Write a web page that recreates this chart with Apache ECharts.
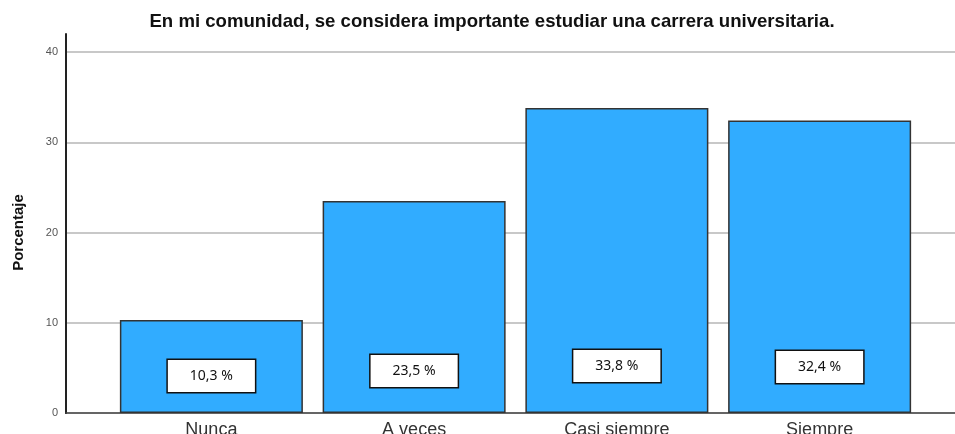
<!DOCTYPE html>
<html>
<head>
<meta charset="utf-8">
<script src="https://cdn.jsdelivr.net/npm/echarts@6/dist/echarts.min.js"></script>
<style>
  html, body { margin: 0; padding: 0; background: #fff; }
  #main { width: 955px; height: 434px; }
</style>
</head>
<body>
<div id="main"></div>
<script>
var categories = ['Nunca', 'A veces', 'Casi siempre', 'Siempre'];
var percentages = [10.3, 23.5, 33.8, 32.4];
var yTicks = [0, 10, 20, 30, 40];

// how high the white value box sits above the bar base (px)
var labelLift = [21, 26, 31, 30];

var myChart = echarts.init(document.getElementById('main'));

function fmt(v) {
    return v.toFixed(1).replace('.', ',') + ' %';
}

var barData = percentages.map(function (v, i) {
    return {value: v, label: {distance: labelLift[i]}};
});

var option = {
    animation: false,
    title: {
        text: 'En mi comunidad, se considera importante estudiar una carrera universitaria.',
        left: 487,
        textAlign: 'center',
        top: 7,
        textStyle: {
            fontFamily: 'Liberation Sans',
            fontWeight: 'bold',
            fontSize: 18.6,
            color: '#111'
        }
    },
    grid: [
        // gridlines + y labels
        {left: 66, right: 0, top: 52, bottom: 21, outerBoundsMode: 'none'},
        // axis line extension
        {left: 66, right: 0, top: 34, bottom: 21, outerBoundsMode: 'none'},
        // bars
        {left: 110, right: 34, top: 52, bottom: 21, outerBoundsMode: 'none'}
    ],
    xAxis: [
        {
            gridIndex: 0, type: 'value', min: 0, max: 1,
            axisLine: {show: true, onZero: false, lineStyle: {color: '#444', width: 1.5}},
            axisTick: {show: false}, axisLabel: {show: false}, splitLine: {show: false}
        },
        {
            gridIndex: 1, type: 'value', min: 0, max: 1, show: false
        },
        {
            gridIndex: 2, type: 'category', data: categories,
            axisLine: {show: false}, axisTick: {show: false},
            axisLabel: {
                margin: 8,
                fontFamily: 'Liberation Sans',
                fontSize: 18,
                color: '#333'
            }
        }
    ],
    yAxis: [
        {
            gridIndex: 0, type: 'value', min: yTicks[0], max: yTicks[yTicks.length - 1], interval: 10,
            name: 'Porcentaje',
            nameLocation: 'middle',
            nameGap: 40,
            nameTextStyle: {fontFamily: 'Liberation Sans', fontWeight: 'bold', fontSize: 15, color: '#111'},
            axisLine: {show: true, lineStyle: {color: '#222', width: 2}},
            axisTick: {show: false},
            axisLabel: {fontFamily: 'Liberation Sans', fontSize: 11, color: '#555', margin: 8},
            splitLine: {show: true, lineStyle: {color: '#c8c8c8', width: 2}}
        },
        {
            gridIndex: 1, type: 'value', min: 0, max: 1,
            axisLine: {show: true, lineStyle: {color: '#222', width: 2}},
            axisTick: {show: false}, axisLabel: {show: false}, splitLine: {show: false}
        },
        {
            gridIndex: 2, type: 'value', min: 0, max: 40, show: false
        }
    ],
    series: [
        {
            type: 'bar',
            xAxisIndex: 2,
            yAxisIndex: 2,
            data: barData,
            barWidth: 183,
            itemStyle: {color: '#31acff', borderColor: '#333', borderWidth: 1.5},
            label: {
                show: true,
                position: 'insideBottom',
                formatter: function (p) { return fmt(p.value); },
                fontFamily: 'Noto Sans',
                fontSize: 14,
                color: '#111',
                backgroundColor: '#fff',
                borderColor: '#111',
                borderWidth: 1.5,
                padding: [9, 22, 9, 22]
            }
        }
    ]
};
myChart.setOption(option);
</script>
</body>
</html>
